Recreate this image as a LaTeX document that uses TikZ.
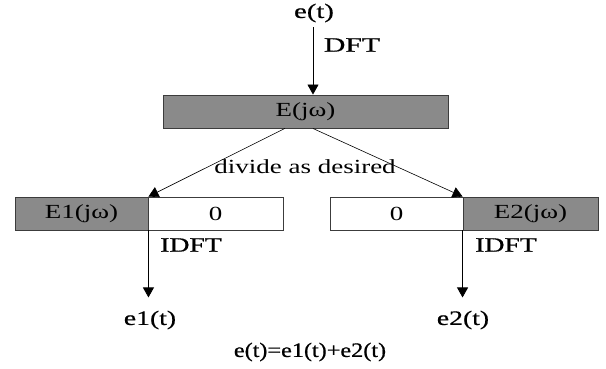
\documentclass[tikz,border=0pt]{standalone}
\usepackage{fontspec}
\usepackage{graphicx}
\setmainfont{Liberation Serif}
\newfontfamily\heavyfont[FakeBold=0.6]{Liberation Serif}
\usetikzlibrary{arrows.meta,calc}
\definecolor{boxgray}{RGB}{138,138,138}
\definecolor{edgegray}{RGB}{60,60,60}
\newcommand\widetext[2]{\scalebox{#1}[1]{#2}}
\tikzset{
  lbl/.style={inner sep=0pt, font=\heavyfont\fontsize{20.5}{22}\selectfont},
  boxlbl/.style={font=\fontsize{20}{22}\selectfont},
  fullbox/.style={draw=edgegray, line width=0.9pt, fill=boxgray, minimum height=33pt, inner sep=0pt},
  emptybox/.style={draw=edgegray, line width=0.9pt, fill=white, minimum height=33pt, inner sep=0pt},
  tip/.style={-{Triangle[width=11pt,length=10pt]}},
  arr/.style={line width=0.8pt, tip},
  ln/.style={line width=0.6pt, tip}
}
\begin{document}
\begin{tikzpicture}[x=1pt,y=-1pt]
\useasboundingbox (0,0) rectangle (606,368);
% boxes
\node[fullbox, minimum width=285pt, boxlbl] (E) at (305.5,111.5) {\widetext{1.35}{E(jω)}};
\node[fullbox, minimum width=133pt, boxlbl] (E1) at (81.5,213.5) {\widetext{1.35}{E1(jω)}};
\node[emptybox, minimum width=135pt, boxlbl] (Z1) at (215.5,213.5) {\widetext{1.35}{0}};
\node[emptybox, minimum width=133pt, boxlbl] (Z2) at (396.5,213.5) {\widetext{1.35}{0}};
\node[fullbox, minimum width=135pt, boxlbl] (E2) at (530.5,213.5) {\widetext{1.35}{E2(jω)}};
% labels
\node[lbl] (et) at (314,13) {\widetext{1.4}{e(t)}};
\node[lbl] (dft) at (352,45) {\widetext{1.45}{DFT}};
\node[lbl, font=\fontsize{20}{22}\selectfont] (div) at (305,167) {\widetext{1.35}{divide as desired}};
\node[lbl] (idft1) at (191,245) {\widetext{1.35}{IDFT}};
\node[lbl] (idft2) at (506,245) {\widetext{1.35}{IDFT}};
\node[lbl] (e1) at (150,320) {\widetext{1.35}{e1(t)}};
\node[lbl] (e2) at (463,320) {\widetext{1.35}{e2(t)}};
\node[lbl] (eq) at (310,352) {\widetext{1.18}{e(t)=e1(t)+e2(t)}};
% connectors
\coordinate (topstart) at (313,27);
\draw[arr] (topstart) -- (E.north -| topstart);
\coordinate (dl) at ($(E.south west)!0.428!(E.south east)$);
\coordinate (dr) at ($(E.south west)!0.526!(E.south east)$);
\draw[ln] (dl) -- (E1.north east);
\draw[ln] (dr) -- (E2.north west);
\coordinate (d1) at ($(E1.south east)+(0,67)$);
\coordinate (d2) at ($(E2.south west)+(0,67)$);
\draw[arr] (E1.south east) -- (d1);
\draw[arr] (E2.south west) -- (d2);
\end{tikzpicture}
\end{document}
